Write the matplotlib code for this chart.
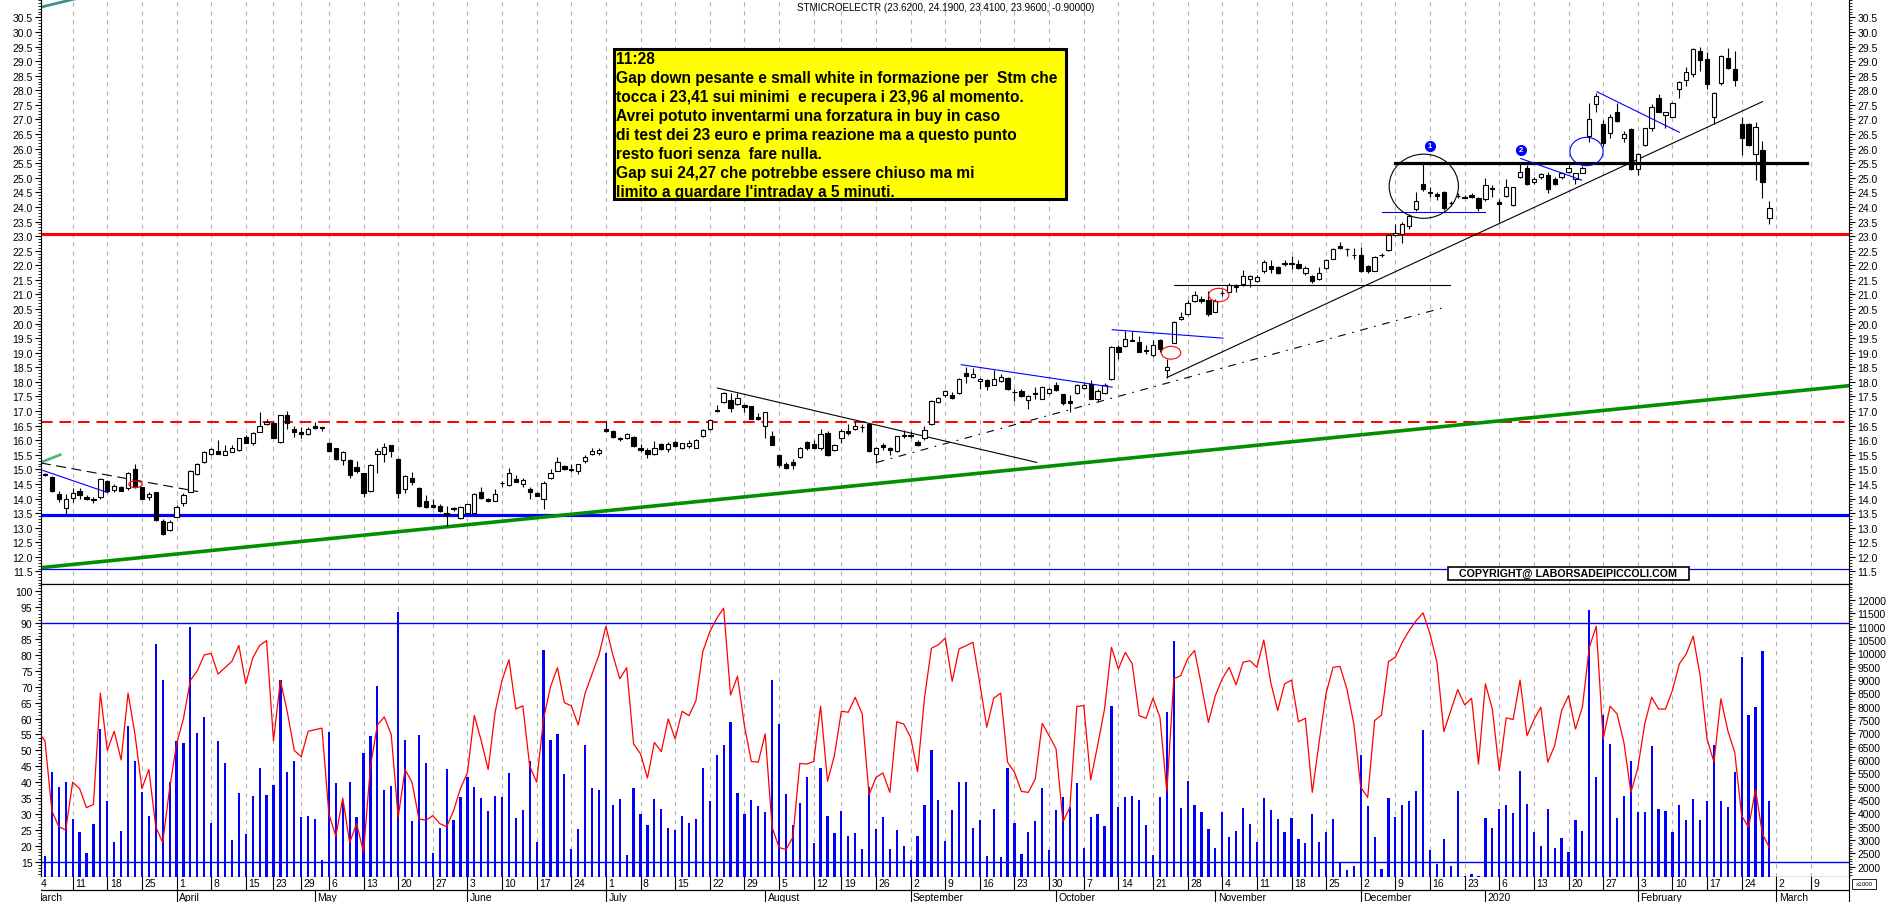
import numpy as np
import pandas as pd
import matplotlib
matplotlib.use('Agg')
import matplotlib.pyplot as plt
from matplotlib.patches import Ellipse, Rectangle
from matplotlib.ticker import FixedLocator, MultipleLocator, FormatStrFormatter

plt.rcParams['font.family'] = ['Liberation Sans', 'DejaVu Sans']
plt.rcParams['font.size'] = 7.5

# ---------------- data ----------------
# Borsa Italiana closing days in the period
holidays = ['2019-04-19', '2019-04-22', '2019-05-01', '2019-08-15', '2019-12-24',
            '2019-12-25', '2019-12-26', '2019-12-31', '2020-01-01']
trading_days = pd.bdate_range('2019-03-04', '2020-02-28')
trading_days = trading_days[~trading_days.isin(pd.to_datetime(holidays))]
future_days = pd.bdate_range('2020-03-02', '2020-03-13')

opens = [15.0, 14.84, 14.75, 14.14, 13.69, 14.03, 14.27, 14.05, 14.0, 14.06,
         14.61, 14.29, 14.38, 14.35, 15.0, 14.38, 14.05, 14.21, 13.23, 12.93,
         13.38, 13.86, 14.24, 14.83, 15.24, 15.54, 15.64, 15.51, 15.6, 15.66,
         16.12, 15.91, 16.29, 16.54, 16.6, 15.94, 16.88, 16.4, 16.29, 16.2,
         16.49, 16.47, 15.89, 15.72, 15.32, 15.32, 15.09, 14.86, 14.26, 15.54,
         15.54, 15.83, 15.34, 14.33, 14.72, 14.35, 13.9, 13.78, 13.76, 13.52,
         13.69, 13.32, 13.52, 13.52, 14.24, 14.0, 13.93, 14.53, 14.46, 14.66,
         14.49, 14.33, 14.18, 14.0, 14.69, 14.95, 15.12, 14.98, 14.94, 15.3,
         15.52, 15.56, 16.4, 16.32, 16.07, 16.08, 16.12, 15.74, 15.66, 15.54,
         15.86, 15.69, 15.94, 15.74, 15.8, 15.75, 16.14, 16.37, 17.0, 17.31,
         17.37, 17.25, 17.22, 17.16, 16.8, 16.49, 16.14, 15.51, 15.2, 15.24,
         15.43, 15.94, 15.86, 15.72, 16.26, 15.66, 16.08, 16.31, 16.38, 16.46,
         16.55, 15.54, 15.83, 15.75, 15.64, 16.15, 16.17, 15.94, 16.06, 16.54,
         17.31, 17.54, 17.56, 17.62, 18.31, 18.17, 18.02, 18.07, 17.9, 18.02,
         18.14, 17.65, 17.68, 17.37, 17.6, 17.42, 17.63, 17.9, 17.58, 17.33,
         17.63, 17.79, 17.94, 17.4, 17.63, 18.11, 19.21, 19.22, 19.41, 19.38,
         19.08, 18.91, 19.42, 18.41, 19.35, 20.15, 20.33, 20.78, 20.83, 20.8,
         20.41, 21.04, 21.09, 21.27, 21.35, 21.53, 21.47, 21.81, 21.98, 21.95,
         22.06, 22.06, 22.04, 21.75, 21.62, 21.53, 21.9, 22.23, 22.65, 22.55,
         22.35, 22.35, 21.98, 21.81, 22.35, 22.52, 23.04, 23.07, 23.35, 23.93,
         24.78, 24.49, 24.44, 24.52, 24.13, 24.38, 24.32, 24.4, 24.29, 24.26,
         24.64, 24.18, 24.38, 24.06, 25.04, 25.35, 24.86, 25.04, 25.1, 24.95,
         25.01, 25.21, 24.95, 25.18, 26.44, 27.52, 26.86, 26.55, 27.27, 26.38,
         26.67, 25.29, 26.13, 26.72, 27.72, 27.15, 27.1, 28.04, 28.35, 28.55,
         29.36, 29.07, 27.1, 28.25, 29.1, 28.73, 26.84, 26.84, 25.83, 25.95,
         23.62]

closes = [14.85, 14.80, 14.27, 13.99, 13.97, 14.2, 14.12, 14.0, 13.95, 14.66,
          14.26, 14.43, 14.26, 14.88, 14.38, 13.99, 14.17, 13.27, 12.79, 13.21,
          13.7, 14.12, 14.95, 15.18, 15.6, 15.69, 15.54, 15.64, 15.75, 16.06,
          15.92, 16.25, 16.5, 16.63, 16.08, 16.86, 16.6, 16.29, 16.2, 16.38,
          16.42, 16.42, 15.63, 15.35, 15.58, 14.81, 14.94, 14.2, 15.15, 15.64,
          15.77, 15.63, 14.2, 14.78, 14.58, 13.76, 13.72, 13.72, 13.58, 13.43,
          13.65, 13.72, 13.81, 14.16, 14.03, 13.9, 14.16, 14.55, 14.86, 14.58,
          14.63, 14.21, 14.1, 14.55, 14.86, 15.24, 15.01, 15.0, 15.17, 15.43,
          15.64, 15.66, 16.3, 16.11, 16.05, 16.2, 15.8, 15.66, 15.54, 15.72,
          15.69, 15.86, 15.8, 15.89, 15.92, 16.0, 16.34, 16.68, 17.02, 17.62,
          17.12, 17.46, 17.14, 16.74, 16.72, 16.97, 15.83, 15.15, 15.06, 15.15,
          15.74, 15.72, 15.75, 16.23, 15.49, 15.83, 16.32, 16.25, 16.48, 16.45,
          15.63, 15.74, 15.77, 15.66, 16.14, 16.16, 16.16, 15.85, 16.34, 17.34,
          17.46, 17.68, 17.45, 18.11, 18.2, 18.28, 18.11, 17.86, 18.11, 18.17,
          17.74, 17.64, 17.52, 17.52, 17.59, 17.82, 17.77, 17.71, 17.29, 17.27,
          17.9, 17.9, 17.42, 17.68, 17.9, 19.19, 19.02, 19.48, 19.43, 19.04,
          19.07, 19.25, 19.13, 18.5, 20.07, 20.24, 20.7, 20.99, 20.78, 20.33,
          20.78, 21.05, 21.33, 21.27, 21.62, 21.64, 21.6, 22.1, 21.87, 21.75,
          22.06, 22.06, 21.89, 21.9, 21.47, 21.75, 22.19, 22.55, 22.58, 22.55,
          22.35, 21.81, 21.79, 22.3, 22.36, 23.04, 23.09, 23.41, 23.7, 24.21,
          24.63, 24.5, 24.36, 23.98, 24.12, 24.37, 24.32, 24.34, 23.98, 24.76,
          24.63, 24.09, 24.67, 24.67, 25.2, 24.78, 24.95, 25.12, 24.63, 24.78,
          25.16, 25.35, 25.16, 25.35, 27.03, 27.81, 26.19, 27.1, 26.95, 26.5,
          25.29, 25.81, 26.69, 27.41, 27.26, 27.24, 27.58, 28.29, 28.64, 29.41,
          29.04, 28.23, 27.89, 29.16, 28.75, 28.35, 26.35, 26.13, 26.75, 24.86,
          23.96]

highs = [15.05, 14.86, 14.78, 14.26, 14.14, 14.35, 14.35, 14.12, 14.07, 14.7,
         14.63, 14.49, 14.43, 14.91, 15.2, 14.38, 14.24, 14.24, 13.29, 13.27,
         13.78, 14.18, 14.98, 15.22, 15.62, 15.72, 16.0, 15.83, 15.83, 16.08,
         16.18, 16.29, 16.97, 16.74, 16.63, 16.88, 17.0, 16.48, 16.46, 16.46,
         16.63, 16.47, 15.94, 15.75, 15.63, 15.34, 15.29, 14.86, 15.18, 15.72,
         15.89, 15.83, 15.38, 14.81, 14.92, 14.38, 14.12, 13.97, 13.81, 13.76,
         13.72, 13.76, 13.83, 14.18, 14.38, 14.03, 14.33, 14.6, 15.05, 14.81,
         14.69, 14.41, 14.24, 14.6, 15.01, 15.43, 15.15, 15.18, 15.2, 15.49,
         15.74, 15.72, 16.65, 16.35, 16.12, 16.25, 16.14, 15.86, 15.72, 15.97,
         15.9, 15.94, 15.97, 15.92, 16.0, 16.03, 16.37, 16.72, 17.22, 17.65,
         17.62, 17.62, 17.25, 17.18, 16.92, 16.97, 16.31, 15.54, 15.26, 15.37,
         15.77, 15.97, 16.0, 16.38, 16.31, 15.86, 16.4, 16.54, 16.65, 16.54,
         16.57, 15.77, 15.92, 15.77, 16.14, 16.34, 16.31, 16.0, 16.48, 17.37,
         17.49, 17.72, 17.65, 18.14, 18.5, 18.47, 18.14, 18.11, 18.4, 18.28,
         18.17, 17.77, 17.77, 17.54, 17.83, 17.86, 17.8, 17.99, 17.6, 17.56,
         17.94, 17.99, 18.06, 17.77, 17.97, 19.22, 19.27, 19.74, 19.74, 19.57,
         19.25, 19.42, 19.48, 18.79, 20.1, 20.38, 20.81, 21.13, 20.95, 21.13,
         20.83, 21.14, 21.38, 21.35, 21.84, 21.66, 21.66, 22.18, 22.18, 21.97,
         22.18, 22.32, 22.18, 21.98, 21.66, 21.93, 22.22, 22.6, 22.81, 22.6,
         22.58, 22.61, 22.0, 22.33, 22.42, 23.07, 23.41, 23.47, 23.75, 24.5,
         25.53, 24.67, 24.5, 24.55, 24.21, 24.47, 24.4, 24.49, 24.33, 24.99,
         24.76, 24.26, 24.95, 24.7, 25.47, 25.43, 25.01, 25.18, 25.2, 25.01,
         25.21, 25.44, 25.18, 25.41, 27.58, 27.9, 26.99, 27.18, 27.55, 26.61,
         26.7, 25.84, 26.72, 27.52, 27.87, 27.26, 27.61, 28.32, 28.79, 29.44,
         29.47, 29.32, 27.95, 29.21, 29.44, 29.36, 27.1, 26.87, 26.9, 26.27,
         24.19]

lows = [14.8, 14.76, 14.22, 13.87, 13.42, 13.87, 14.0, 13.96, 13.86, 14.0,
        14.24, 14.24, 14.26, 14.29, 14.35, 13.99, 13.95, 13.23, 12.75, 12.9,
        13.36, 13.76, 14.22, 14.81, 15.21, 15.49, 15.54, 15.49, 15.58, 15.64,
        15.89, 15.83, 16.29, 16.52, 16.06, 15.92, 16.4, 16.12, 16.08, 16.17,
        16.38, 16.31, 15.61, 15.32, 15.15, 14.72, 14.86, 14.07, 14.24, 14.86,
        15.26, 15.44, 14.03, 14.2, 14.47, 13.72, 13.66, 13.66, 13.55, 13.06,
        13.58, 13.29, 13.49, 13.49, 14.0, 13.88, 13.9, 14.38, 14.43, 14.56,
        14.38, 13.99, 14.09, 13.63, 14.66, 14.94, 14.98, 14.92, 14.83, 15.22,
        15.49, 15.5, 16.29, 16.08, 15.98, 16.03, 15.77, 15.6, 15.4, 15.49,
        15.66, 15.6, 15.77, 15.7, 15.74, 15.72, 16.12, 16.34, 16.97, 17.28,
        16.97, 17.2, 16.97, 16.72, 16.68, 16.06, 15.83, 15.09, 15.03, 15.0,
        15.4, 15.66, 15.72, 15.66, 15.46, 15.63, 15.89, 16.17, 16.35, 16.29,
        15.6, 15.23, 15.66, 15.49, 15.6, 16.06, 16.06, 15.8, 16.0, 16.52,
        17.28, 17.49, 17.4, 17.6, 17.95, 18.14, 17.75, 17.72, 17.88, 18.0,
        17.72, 17.33, 17.49, 17.08, 17.43, 17.4, 17.6, 17.68, 17.22, 16.97,
        17.6, 17.77, 17.4, 17.31, 17.6, 18.08, 18.79, 19.19, 19.4, 19.02,
        18.97, 18.85, 19.04, 18.13, 19.33, 20.12, 20.28, 20.73, 20.7, 20.27,
        20.38, 20.95, 21.07, 21.07, 21.3, 21.27, 21.43, 21.75, 21.72, 21.7,
        21.98, 21.87, 21.87, 21.66, 21.38, 21.49, 21.87, 22.2, 22.55, 22.33,
        22.21, 21.78, 21.75, 21.79, 22.27, 22.5, 22.99, 22.76, 23.24, 23.87,
        24.55, 24.33, 24.24, 23.9, 24.04, 24.29, 24.29, 24.29, 23.87, 24.2,
        24.35, 23.5, 24.35, 24.04, 25.0, 24.76, 24.78, 24.96, 24.49, 24.75,
        24.95, 25.18, 24.78, 25.16, 26.23, 27.24, 26.1, 26.38, 26.92, 26.23,
        25.27, 25.1, 26.1, 26.61, 27.24, 26.72, 27.07, 27.72, 28.13, 28.47,
        28.67, 28.06, 26.84, 28.18, 28.72, 28.13, 25.77, 26.1, 24.92, 24.3,
        23.41]

# volume, thousands of shares
volume = [4000,
          2390, 5540, 4980, 5190, 3790, 3290, 2510, 3600, 7160, 4480,
          2940, 3330, 7260, 5950, 4810, 3890, 10350, 9000, 5160, 6730,
          6630, 10980, 7000, 7600, 3640, 6700, 5880, 3010, 4750, 3230,
          4640, 5690, 4690, 5060, 9000, 5540, 5980, 3850, 3910, 3790,
          2250, 7060, 5140, 4480, 5160, 3850, 6250, 6890, 8760, 4890,
          5010, 11540, 6740, 3700, 6930, 5900, 2510, 3440, 5660, 3750,
          4610, 5350, 4980, 4560, 4090, 4640, 4630, 5500, 3830, 4130,
          5980, 2940, 10130, 6760, 6980, 5460, 2660, 3410, 6560, 4950,
          4880, 10000, 4310, 4540, 2440, 4940, 3980, 3580, 4540, 4160,
          3440, 3390, 3890, 3630, 3790, 5690, 4460, 6190, 6560, 7410,
          4760, 3980, 4500, 4290, 4040, 9010, 7340, 4730, 3580, 4390,
          5350, 2890, 5690, 3900, 3260, 4090, 3160, 3260, 2660, 5000,
          3410, 3860, 2660, 3380, 2790, 2250, 3150, 4310, 6380, 4500,
          2950, 4130, 5190, 5180, 3450, 3750, 2400, 4150, 2360, 5690,
          3630, 2480, 3310, 3730, 4960, 2640, 4110, 4610, 4250, 5140,
          2700, 3850, 3980, 3510, 8040, 4240, 4630, 4650, 4500, 3580,
          2440, 4600, 7800, 10450, 4200, 5200, 4310, 4040, 3430, 2700,
          4060, 3110, 3350, 4200, 3600, 2910, 4580, 4140, 3790, 3310,
          3830, 3040, 2890, 3980, 2940, 3290, 3790, 2160, 1890, 2040,
          6190, 4290, 3100, 1910, 4580, 3860, 4330, 4480, 4840, 7130,
          2640, 2100, 3040, 2010, 4840, 1660, 1730, 1660, 3840, 3450,
          4160, 4330, 4010, 5590, 4350, 3310, 2790, 4160, 2700, 3080,
          2560, 3750, 3340, 11630, 5350, 7690, 6600, 3830, 4660, 5980,
          4040, 4060, 6510, 4160, 4080, 3290, 4310, 3750, 4540, 3760,
          4460, 6560, 4450, 4230, 5540, 9880, 7690, 8000, 10100, 4480]

# oscillator (red line, left scale 0-100)
oscillator = [56,
              53, 31, 26, 25, 40, 38, 32, 33, 68, 50,
              56, 47, 68, 55, 38, 44, 26, 21, 38, 52,
              60, 72, 75, 80, 80.5, 74, 76, 78, 83, 71,
              79, 83, 84.5, 53, 72, 62, 50, 48, 56, 56.5,
              57, 30, 23, 35, 21, 27, 18, 45, 58, 60.5,
              55, 29, 44, 40, 28.5, 28, 29.5, 27, 26, 31,
              38, 43, 61, 53, 44, 62, 72, 78.5, 63, 64,
              45, 40, 60, 70, 76, 65, 64, 58, 68, 74,
              80, 89, 80, 72.5, 76, 52, 48.9, 41.3, 52.5, 49.6,
              59.9, 53.6, 62.3, 60.9, 65.6, 81.1, 87.3, 91.5, 94.7, 67.4,
              73.3, 57.8, 46.5, 46.3, 55.2, 25.8, 19.5, 18.8, 22.7, 45.9,
              45.7, 46.5, 63.9, 40.3, 48.4, 62.3, 62.0, 66.7, 61.5, 36.0,
              41.5, 42.9, 36.8, 59.0, 58.3, 54.1, 43.3, 66.4, 82.1, 83.2,
              85.3, 71.7, 81.9, 82.9, 84.0, 70.9, 57.3, 66.4, 68.0, 46.3,
              43.1, 37.1, 36.8, 41.0, 58.5, 54.6, 50.5, 27.6, 32.1, 63.8,
              64.1, 40.7, 51.5, 63.0, 82.4, 75.6, 80.8, 77.2, 60.9, 60.1,
              66.4, 60.4, 37.0, 72.5, 73.5, 78.8, 81.4, 70.4, 58.8, 67.2,
              72.5, 76.1, 70.6, 77.7, 78.2, 76.1, 84.7, 71.4, 62.5, 70.9,
              72.1, 59.0, 60.1, 36.8, 52.8, 68.0, 76.1, 76.4, 69.3, 58.3,
              38.4, 35.2, 59.4, 61.1, 77.9, 79.3, 84.0, 87.7, 90.8, 93.2,
              86.6, 77.7, 55.9, 62.5, 69.1, 64.3, 66.4, 45.7, 70.9, 63.0,
              43.6, 60.2, 59.7, 72.1, 54.6, 59.6, 63.6, 46.3, 51.5, 62.5,
              67.2, 56.7, 63.6, 82.4, 89.0, 53.6, 63.9, 61.5, 52.5, 36.8,
              44.4, 58.3, 66.7, 63.0, 63.0, 68.8, 77.2, 80.3, 85.9, 73.5,
              53.6, 46.3, 66.2, 56.2, 49.4, 29.5, 25.8, 37.7, 23.7, 19.5]

# horizontal levels on the price chart
red_level, red_dash_level = 23.06, 16.64
blue_level, blue_thin_level = 13.44, 11.6
osc_levels = [90, 15]

# hand drawn lines: (bar from, price from, bar to, price to)
green_line = (0.4, 11.63, 261.5, 17.87)
teal_segments = [(0.4, 30.85, 10.0, 31.4), (0.4, 15.24, 3.2, 15.5)]
black_lines = [(98.1, 17.79, 144.2, 15.24), (163.0, 18.15, 249.0, 27.61),
               (164.1, 21.32, 203.9, 21.32)]
black_dashed = (0.4, 15.22, 23.1, 14.24)
black_dashdot = (121.1, 15.24, 203.0, 20.55)
black_thick = (195.9, 25.5, 255.5, 25.5)
blue_lines = [(0.4, 14.99, 10.1, 14.2), (133.3, 18.59, 155.1, 17.82),
              (155.1, 19.79, 171.1, 19.5), (194.0, 23.81, 208.9, 23.81),
              (214.1, 25.66, 222.9, 24.92), (225.1, 27.95, 237.0, 26.56)]
# (bar, price, width in bars, height in price, colour)
ellipses = [(14.05, 14.49, 1.9, 0.23, 'red'), (163.6, 19.0, 2.8, 0.44, 'red'),
            (170.5, 20.98, 2.9, 0.46, 'red'), (200.1, 24.71, 10.0, 2.2, 'black'),
            (223.6, 25.9, 4.8, 0.97, '#0000ff')]
markers = [('1', 201.0, 26.1), ('2', 214.1, 25.96)]

note = ("11:28\n"
        "Gap down pesante e small white in formazione per  Stm che\n"
        "tocca i 23,41 sui minimi  e recupera i 23,96 al momento.\n"
        "Avrei potuto inventarmi una forzatura in buy in caso\n"
        "di test dei 23 euro e prima reazione ma a questo punto\n"
        "resto fuori senza  fare nulla.\n"
        "Gap sui 24,27 che potrebbe essere chiuso ma mi\n"
        "limito a guardare l'intraday a 5 minuti.")
title = "STMICROELECTR (23.6200, 24.1900, 23.4100, 23.9600, -0.90000)"

# ---------------- calendar for the axis ----------------
cal = [pd.Timestamp('2019-03-01')] + list(trading_days) + list(future_days)
cal_idx = np.arange(len(cal)) - 1
week_starts, month_starts = [], []
for k, d in enumerate(cal):
    if k == 0 or d.isocalendar()[1] != cal[k - 1].isocalendar()[1]:
        if (d + pd.Timedelta(days=6)).year == d.year:
            week_starts.append((cal_idx[k], str(d.day)))
    if k == 0 or d.month != cal[k - 1].month:
        name = str(d.year) if d.month == 1 else d.strftime('%B')
        month_starts.append((cal_idx[k], name))

# ---------------- figure ----------------
fig = plt.figure(figsize=(18.9, 9.03), dpi=100)
L, R = 40.8 / 1890, 1849 / 1890
y_sep = 1 - 585 / 903
y_bot = 1 - 878 / 903
ax = fig.add_axes([L, y_sep, R - L, 1 - y_sep])
axv = fig.add_axes([L, y_bot, R - L, y_sep - y_bot])
axo = axv.twinx()
axd = fig.add_axes([L, 0, R - L, y_bot])
xlim = (0.4, 261.5)

grid_kw = dict(color='#b4b4b4', lw=0.8, ls=(0, (4, 4)), zorder=0)
for ws, _ in week_starts:
    ax.axvline(ws, **grid_kw)
    axv.axvline(ws, **grid_kw)

# candles
x = np.arange(len(opens))
o, h, l, c = (np.array(v) for v in (opens, highs, lows, closes))
up = c >= o
ax.vlines(x, l, h, color='black', lw=0.8, zorder=3)
ax.bar(x, np.maximum(np.abs(c - o), 0.015), bottom=np.minimum(o, c), width=0.62,
       color=np.where(up, 'white', 'black'), edgecolor='black', linewidth=0.8, zorder=4)

# levels
ax.axhline(red_level, color='#ff0000', lw=2.2, zorder=2)
ax.axhline(red_dash_level, color='#ff0000', lw=1.4, ls=(0, (6, 3.5)), zorder=2)
ax.axhline(blue_level, color='#0000ff', lw=2.3, zorder=2)
ax.axhline(blue_thin_level, color='#0000ff', lw=0.9, zorder=2)

def seg(s, **kw):
    ax.plot([s[0], s[2]], [s[1], s[3]], **kw)

seg(green_line, color='#009000', lw=2.6, zorder=2)
seg(teal_segments[0], color='#3c9090', lw=2.0, zorder=2)
seg(teal_segments[1], color='#50b478', lw=2.0, zorder=2)
for s in black_lines:
    seg(s, color='black', lw=0.8, zorder=2)
seg(black_dashed, color='black', lw=0.8, ls=(0, (9, 5)), zorder=2)
seg(black_dashdot, color='black', lw=0.8, ls=(0, (7, 6, 1.5, 6)), zorder=2)
seg(black_thick, color='black', lw=2.3, zorder=5)
for s in blue_lines:
    seg(s, color='#0000ff', lw=0.8, zorder=5)
for cx, cy, w, hh, col in ellipses:
    ax.add_patch(Ellipse((cx, cy), w, hh, fill=False, edgecolor=col, lw=0.8, zorder=6))
for t, mx, my in markers:
    ax.plot(mx, my, 'o', ms=7, color='#0000ff', zorder=7)
    ax.text(mx, my, t, color='white', fontsize=5.5, fontweight='bold',
            ha='center', va='center', zorder=8)

ax.set_xlim(*xlim)
ax.set_ylim(11.07, 31.13)
ax.set_xticks([])
ax.yaxis.set_major_locator(FixedLocator(np.arange(11.5, 30.51, 0.5)))
ax.yaxis.set_minor_locator(MultipleLocator(0.1))
ax.yaxis.set_major_formatter(FormatStrFormatter('%.1f'))
ax.tick_params(axis='y', which='both', left=True, right=True, labelleft=True,
               labelright=True, direction='out', labelsize=7.5, pad=2)
ax.tick_params(axis='y', which='major', length=4, width=0.8)
ax.tick_params(axis='y', which='minor', length=2, width=0.6)
ax.spines['top'].set_visible(False)

# volume + oscillator
axv.bar(x, volume, width=0.32, color='#0000ff', zorder=2)
axv.set_xlim(*xlim)
axv.set_ylim(1614, 12600)
axv.set_xticks([])
axv.yaxis.tick_right()
axv.yaxis.set_major_locator(FixedLocator(np.arange(2000, 12001, 500)))
axv.yaxis.set_minor_locator(MultipleLocator(100))
axv.tick_params(axis='y', which='both', direction='out', labelsize=7.5, pad=2)
axv.tick_params(axis='y', which='major', length=4, width=0.8)
axv.tick_params(axis='y', which='minor', length=2, width=0.6)

axo.plot(x, oscillator, color='#ff0000', lw=0.9, zorder=3)
for lv in osc_levels:
    axo.axhline(lv, color='#0000ff', lw=1.0, zorder=2)
axo.set_xlim(*xlim)
axo.set_ylim(10.2, 102.3)
axo.yaxis.tick_left()
axo.yaxis.set_major_locator(FixedLocator(np.arange(15, 101, 5)))
axo.yaxis.set_minor_locator(MultipleLocator(1))
axo.tick_params(axis='y', which='both', direction='out', labelsize=7.5, pad=2)
axo.tick_params(axis='y', which='major', length=4, width=0.8)
axo.tick_params(axis='y', which='minor', length=2, width=0.6)

# date strip
axd.set_xlim(*xlim)
axd.set_ylim(0, 1)
axd.set_xticks([])
axd.set_yticks([])
for sp in ('top', 'bottom', 'left'):
    axd.spines[sp].set_visible(False)
axd.axhline(0.48, color='black', lw=0.9)
for ws, lab in week_starts:
    axd.plot([ws, ws], [0.48, 1], color='black', lw=0.8, clip_on=True)
    axd.text(ws + 0.35, 0.74, lab, ha='left', va='center', fontsize=7.5, clip_on=True)
for ms, lab in month_starts:
    axd.plot([ms, ms], [0, 0.48], color='black', lw=0.8, clip_on=True)
    axd.text(ms + 0.35, 0.18, lab, ha='left', va='center', fontsize=7.5, clip_on=True)

# texts
fig.text(945.5 / 1890, 1 - 8.3 / 903, title, ha='center', va='center', fontsize=7.1)
fig.add_artist(Rectangle((613.5 / 1890, 1 - 200 / 903), 452.2 / 1890, 150 / 903,
                         transform=fig.transFigure, facecolor='#ffff00',
                         edgecolor='black', lw=2.2, zorder=10))
fig.text(616 / 1890, 1 - 52 / 903, note, ha='left', va='top', fontsize=11.2,
         fontweight='bold', linespacing=1.33, zorder=11)
fig.add_artist(Rectangle((1448 / 1890, 1 - 581 / 903), 240.8 / 1890, 13.3 / 903,
                         transform=fig.transFigure, facecolor='white',
                         edgecolor='black', lw=1.2, zorder=10))
fig.text(1568.4 / 1890, 1 - 574.3 / 903, 'COPYRIGHT@ LABORSADEIPICCOLI.COM',
         ha='center', va='center', fontsize=7.7, fontweight='bold', zorder=11)
fig.add_artist(Rectangle((1852 / 1890, 1 - 890 / 903), 24 / 1890, 10 / 903,
                         transform=fig.transFigure, facecolor='white',
                         edgecolor='black', lw=0.6, zorder=10))
fig.text(1864 / 1890, 1 - 885 / 903, 'x1000', ha='center', va='center',
         fontsize=4.5, zorder=11)

fig.savefig('out.png', dpi=100)
